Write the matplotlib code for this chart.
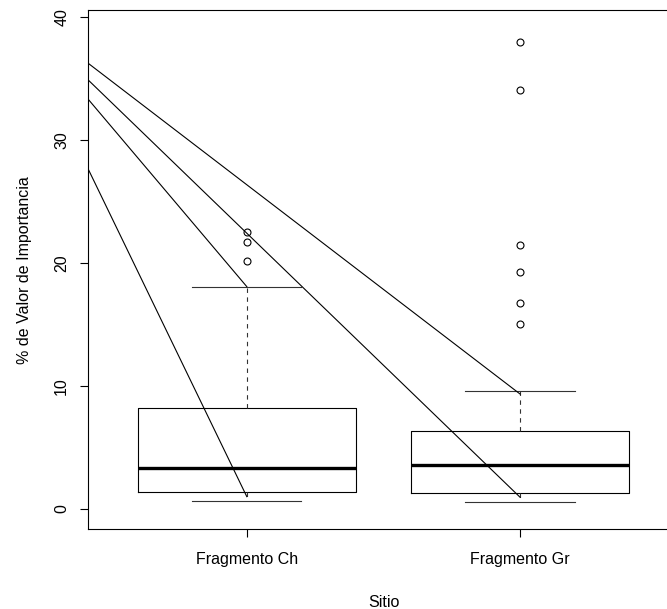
import matplotlib
matplotlib.use("Agg")
import matplotlib.pyplot as plt

plt.rcParams["font.family"] = ["Liberation Sans", "DejaVu Sans"]

# Boxplot summary values
sitios = ["Fragmento Ch", "Fragmento Gr"]
q1 = [1.41, 1.28]
medians = [3.31, 3.55]
q3 = [8.19, 6.37]
whisker_low = [0.65, 0.57]
whisker_high = [18.09, 9.63]
outliers_ch = [22.56, 21.7, 20.18]
outliers_gr = [37.97, 34.07, 21.48, 19.26, 16.79, 15.03]

# Straight lines drawn over the boxes (start at left edge of the plot)
line_start_y = [36.26, 34.9, 33.33, 27.64]
line_end_x = [2, 2, 1, 1]
line_end_y = [9.35, 0.95, 18.09, 1.0]

x_lim = (0.42, 2.58)
y_lim = (-1.63, 40.58)

fig = plt.figure(figsize=(6.67, 6.09), dpi=100)
ax = fig.add_axes([0.1324, 0.1314, 0.885, 0.8517])

stats = []
for i, name in enumerate(sitios):
    stats.append(
        {
            "label": name,
            "q1": q1[i],
            "med": medians[i],
            "q3": q3[i],
            "whislo": whisker_low[i],
            "whishi": whisker_high[i],
            "fliers": [outliers_ch, outliers_gr][i],
        }
    )

ax.bxp(
    stats,
    positions=[1, 2],
    widths=0.8,
    capwidths=0.4,
    boxprops={"color": "black", "linewidth": 0.8},
    medianprops={"color": "black", "linewidth": 2.4, "solid_capstyle": "butt"},
    whiskerprops={"color": "#333333", "linewidth": 0.8, "linestyle": (0, (4, 4))},
    capprops={"color": "#333333", "linewidth": 0.8},
    flierprops={
        "marker": "o",
        "markersize": 5,
        "markerfacecolor": "none",
        "markeredgecolor": "black",
        "markeredgewidth": 0.8,
    },
)

for y0, x1, y1 in zip(line_start_y, line_end_x, line_end_y):
    ax.plot([x_lim[0], x1], [y0, y1], color="black", linewidth=0.8)

ax.set_xlim(*x_lim)
ax.set_ylim(*y_lim)

ax.set_xticks([1, 2])
ax.set_xticklabels(sitios)
ax.set_yticks([0, 10, 20, 30, 40])
ax.set_yticklabels(["0", "10", "20", "30", "40"], rotation=90, va="center")

ax.tick_params(axis="x", length=5.8, width=0.8, pad=11, labelsize=11.5)
ax.tick_params(axis="y", length=5.8, width=0.8, pad=8, labelsize=11.5)

for side in ["left", "top", "bottom", "right"]:
    ax.spines[side].set_linewidth(0.8)

ax.set_xlabel("Sitio", fontsize=11.5)
ax.xaxis.set_label_coords(0.5, -0.127)
ax.set_ylabel("% de Valor de Importancia", fontsize=11.5)
ax.yaxis.set_label_coords(-0.096, 0.5)

fig.savefig("out.png", dpi=100)
